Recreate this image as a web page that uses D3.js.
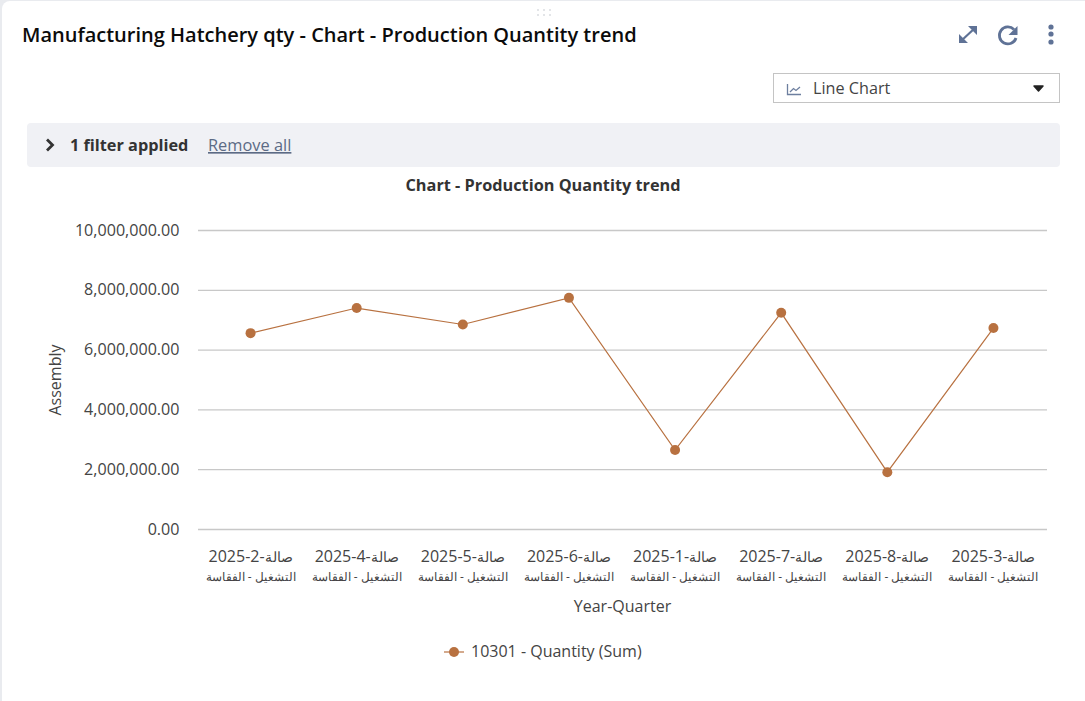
<!DOCTYPE html>
<html>
<head>
<meta charset="utf-8">
<script src="https://cdn.jsdelivr.net/npm/d3@7"></script>
<style>
  html, body { margin: 0; padding: 0; background: #e9ebef; overflow: hidden; }
  svg { display: block; font-family: "Open Sans", sans-serif; }
  .domain { display: none; }
</style>
</head>
<body>
<script>
const categories = ["2025-2-صالة", "2025-4-صالة", "2025-5-صالة", "2025-6-صالة", "2025-1-صالة", "2025-7-صالة", "2025-8-صالة", "2025-3-صالة"];
const subLabel = "التشغيل - الفقاسة";
const quantities = [6550000, 7390000, 6840000, 7730000, 2640000, 7230000, 1900000, 6720000];
const yTicks = [0, 2000000, 4000000, 6000000, 8000000, 10000000];

const seriesName = "10301 - Quantity (Sum)";
const lineColor = "#b87140";

const svg = d3.select("body").append("svg").attr("width", 1085).attr("height", 701);

// card + header
svg.append("rect").attr("x", 2).attr("y", 1).attr("width", 1090).attr("height", 710)
  .attr("rx", 8).attr("fill", "#fff");

svg.append("text").attr("x", 22).attr("y", 42)
  .style("font-size", "20px").style("font-weight", 600).attr("fill", "#0b0b0b")
  .text("Manufacturing Hatchery qty - Chart - Production Quantity trend");

// drag handle
[538, 544, 550].forEach(function(cx) {
  [10, 15].forEach(function(cy) {
    svg.append("circle").attr("cx", cx).attr("cy", cy).attr("r", 0.8).attr("fill", "#bfc3cb");
  });
});

appendIcons();
appendDropdown();
appendFilterBar();

// chart
const x = d3.scaleBand().domain(categories).range([197.5, 1046.5]);
const y = d3.scaleLinear().domain([0, 10000000]).range([529, 230]);

svg.append("text").attr("x", 543).attr("y", 191).attr("text-anchor", "middle")
  .style("font-size", "16.3px").style("font-weight", 700).attr("fill", "#333")
  .text("Chart - Production Quantity trend");

const yAxis = svg.append("g").attr("transform", "translate(198,0)")
  .call(d3.axisLeft(y).tickValues(yTicks).tickSize(-849).tickPadding(18.5).tickFormat(d3.format(",.2f")));
yAxis.selectAll("line").attr("stroke", "#c8c8c8").attr("stroke-width", 1.3);
yAxis.selectAll("text").attr("fill", "#444").style("font-size", "16.1px").style("font-family", "'Open Sans'");

const xAxis = svg.append("g").attr("transform", "translate(0,529)")
  .call(d3.axisBottom(x).tickSize(0).tickPadding(0));
xAxis.selectAll("text").remove();
xAxis.selectAll(".tick").each(function(d) {
  const tick = d3.select(this);
  const cut = d.lastIndexOf("-") + 1;
  const first = tick.append("text").attr("y", 33).attr("text-anchor", "middle").attr("direction", "ltr")
    .attr("fill", "#444").style("font-size", "16px").style("font-family", "'Open Sans'");
  first.append("tspan").text(d.slice(0, cut));
  first.append("tspan").style("font-size", "14px").text(d.slice(cut));
  tick.append("text").attr("y", 52).attr("text-anchor", "middle")
    .attr("fill", "#444").style("font-size", "11.9px").style("font-family", "'Open Sans'").text(subLabel);
});

svg.append("text").attr("transform", "translate(61,380) rotate(-90)").attr("text-anchor", "middle")
  .style("font-size", "16px").attr("fill", "#444").text("Assembly");

svg.append("text").attr("x", 622.5).attr("y", 612).attr("text-anchor", "middle")
  .style("font-size", "16px").attr("fill", "#444").text("Year-Quarter");

// line + points
const line = d3.line()
  .x(function(d, i) { return x(categories[i]) + x.bandwidth() / 2; })
  .y(function(d) { return y(d); });

svg.append("path").datum(quantities).attr("d", line)
  .attr("fill", "none").attr("stroke", lineColor).attr("stroke-width", 1.2);

svg.selectAll(".point").data(quantities).enter().append("circle")
  .attr("class", "point")
  .attr("cx", function(d, i) { return x(categories[i]) + x.bandwidth() / 2; })
  .attr("cy", function(d) { return y(d); })
  .attr("r", 5).attr("fill", lineColor);

// legend
svg.append("line").attr("x1", 444).attr("x2", 464).attr("y1", 652).attr("y2", 652)
  .attr("stroke", lineColor).attr("stroke-width", 1.2);
svg.append("circle").attr("cx", 454).attr("cy", 652).attr("r", 5).attr("fill", lineColor);
svg.append("text").attr("x", 471).attr("y", 657)
  .style("font-size", "16px").attr("fill", "#444").text(seriesName);

function appendIcons() {
  const c = "#5f7296";
  const g = svg.append("g").attr("fill", "none").attr("stroke", c).attr("stroke-width", 2.2);
  // expand
  g.append("path").attr("d", "M961 41 L975 28");
  svg.append("path").attr("d", "M968 26 H977 V35 Z M959 34 V43 H968 Z").attr("fill", c);
  // refresh
  g.append("path").attr("d", "M1014 29.5 A8.5 8.5 0 1 0 1016 38").attr("stroke-width", 2.8);
  svg.append("path").attr("d", "M1017.5 26 V35 H1008.5 Z").attr("fill", c);
  // dots
  [27, 34, 42].forEach(function(cy) {
    svg.append("circle").attr("cx", 1051).attr("cy", cy).attr("r", 2.6).attr("fill", c);
  });
}

function appendDropdown() {
  svg.append("rect").attr("x", 773.5).attr("y", 73.5).attr("width", 286).attr("height", 29)
    .attr("fill", "#fff").attr("stroke", "#c4c4c4");
  svg.append("path").attr("d", "M787.5 84 V94.5 H801 M790 92 L793.5 88.5 L796 90.5 L800 87")
    .attr("fill", "none").attr("stroke", "#6d7f9f").attr("stroke-width", 1.3);
  svg.append("text").attr("x", 813).attr("y", 94)
    .style("font-size", "16.2px").attr("fill", "#444").text("Line Chart");
  svg.append("path").attr("d", "M1034 86 H1043 L1038.5 91 Z").attr("fill", "#222")
    .attr("stroke", "#222").attr("stroke-width", 1.5).attr("stroke-linejoin", "round");
}

function appendFilterBar() {
  svg.append("rect").attr("x", 27).attr("y", 123).attr("width", 1033).attr("height", 44)
    .attr("rx", 4).attr("fill", "#f0f1f5");
  svg.append("path").attr("d", "M47 139.5 L52.5 145 L47 150.5").attr("fill", "none")
    .attr("stroke", "#333").attr("stroke-width", 2.8);
  svg.append("text").attr("x", 70).attr("y", 151)
    .style("font-size", "16.3px").style("font-weight", 700).attr("fill", "#333").text("1 filter applied");
  svg.append("text").attr("x", 208).attr("y", 151)
    .style("font-size", "16.4px").style("text-decoration", "underline").attr("fill", "#5c6b85").text("Remove all");
}
</script>
</body>
</html>
